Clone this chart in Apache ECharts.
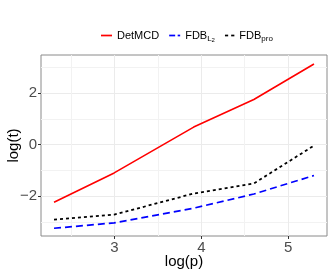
<!DOCTYPE html>
<html>
<head>
<meta charset="utf-8">
<script src="https://cdn.jsdelivr.net/npm/echarts@6/dist/echarts.min.js"></script>
<style>html,body{margin:0;padding:0;background:#fff}#c{width:332px;height:277px}</style>
</head>
<body>
<div id="c"></div>
<script>
const logP = [2.303, 2.996, 3.912, 4.605, 5.298];
const detMCD = [-2.24, -1.10, 0.68, 1.75, 3.13];
const fdbL2 = [-3.25, -3.04, -2.47, -1.92, -1.20];
const fdbPro = [-2.91, -2.72, -1.90, -1.51, -0.04];
const xTicks = [3, 4, 5];
const yTicks = [-2, 0, 2];
const seriesNames = ['DetMCD', 'FDBL2', 'FDBpro'];
const seriesColors = ['#ff0000', '#0000ff', '#000000'];

const font = 'Liberation Sans, Arial, Helvetica, sans-serif';
function pairs(ys) { return logP.map((x, i) => [x, ys[i]]); }

function seg(w, c) { return {width: w, height: 1.7, fontSize: 1, lineHeight: 1.7, backgroundColor: c}; }
function gap(w) { return {width: w, fontSize: 1, lineHeight: 1}; }

const chart = echarts.init(document.getElementById('c'), null, {renderer: 'canvas'});
chart.setOption({
  animation: false,
  backgroundColor: '#fff',
  color: seriesColors,
  textStyle: {fontFamily: font},
  grid: {left: 41, right: 5, top: 55, bottom: 41, show: true, borderColor: '#8a8a8a', borderWidth: 1,
    backgroundColor: 'transparent', containLabel: false, outerBoundsMode: 'none'},
  legend: {
    top: 25, left: 91, itemWidth: 0, itemHeight: 2, itemGap: 5, icon: 'rect',
    itemStyle: {opacity: 0},
    data: seriesNames,
    textStyle: {fontFamily: font, fontSize: 11, color: '#000',
      rich: {
        m: {fontFamily: font, fontSize: 11, color: '#000'},
        s: {fontFamily: font, fontSize: 8, color: '#000', padding: [6, 0, 0, 0]},
        t: {fontFamily: font, fontSize: 6, color: '#000', padding: [10, 0, 0, 0]},
        r1: seg(11, seriesColors[0]),
        b1: seg(6, seriesColors[1]), b2: seg(2.5, seriesColors[1]),
        k1: seg(3.2, seriesColors[2]),
        g2: gap(2.5), g3: gap(3), g5: gap(5)
      }
    },
    formatter: function (n) {
      if (n === 'FDBL2') return '{b1| }{g2| }{b2| }{g5| }{m|FDB}{s|L}{t|2}';
      if (n === 'FDBpro') return '{k1| }{g3| }{k1| }{g5| }{m|FDB}{s|pro}';
      return '{r1| }{g5| }{m|' + n + '}';
    }
  },
  xAxis: {
    type: 'value', min: 2.153, max: 5.448, splitNumber: 3,
    name: 'log(p)', nameLocation: 'middle', nameGap: 18, nameMoveOverlap: false,
    nameTextStyle: {fontFamily: font, fontSize: 15, color: '#000'},
    axisLine: {show: false, onZero: false},
    axisTick: {show: true, length: 3, lineStyle: {color: '#333'}, customValues: xTicks},
    axisLabel: {fontFamily: font, fontSize: 15, color: '#4d4d4d', margin: 4, customValues: xTicks},
    splitLine: {show: true, lineStyle: {color: '#ebebeb', width: 1}},
    minorTick: {show: false, splitNumber: 2},
    minorSplitLine: {show: true, lineStyle: {color: '#f2f2f2', width: 1}}
  },
  yAxis: {
    type: 'value', min: -3.55, max: 3.48, splitNumber: 4,
    name: 'log(t)', nameLocation: 'middle', nameGap: 20, nameMoveOverlap: false,
    nameTextStyle: {fontFamily: font, fontSize: 15, color: '#000'},
    axisLine: {show: false, onZero: false},
    axisTick: {show: true, length: 3, lineStyle: {color: '#333'}, customValues: yTicks},
    axisLabel: {fontFamily: font, fontSize: 15, color: '#4d4d4d', margin: 4, customValues: yTicks,
      formatter: v => String(v).replace('-', '\u2212')},
    splitLine: {show: true, lineStyle: {color: '#ebebeb', width: 1}},
    minorTick: {show: false, splitNumber: 2},
    minorSplitLine: {show: true, lineStyle: {color: '#f2f2f2', width: 1}}
  },
  series: [
    {name: 'DetMCD', type: 'line', data: pairs(detMCD), symbol: 'none', lineStyle: {color: seriesColors[0], width: 1.6}, itemStyle: {color: seriesColors[0]}},
    {name: 'FDBL2', type: 'line', data: pairs(fdbL2), symbol: 'none', lineStyle: {color: seriesColors[1], width: 1.7, type: [7, 4]}, itemStyle: {color: seriesColors[1]}},
    {name: 'FDBpro', type: 'line', data: pairs(fdbPro), symbol: 'none', lineStyle: {color: seriesColors[2], width: 1.8, type: [3, 3]}, itemStyle: {color: seriesColors[2]}}
  ]
});
</script>
</body>
</html>
